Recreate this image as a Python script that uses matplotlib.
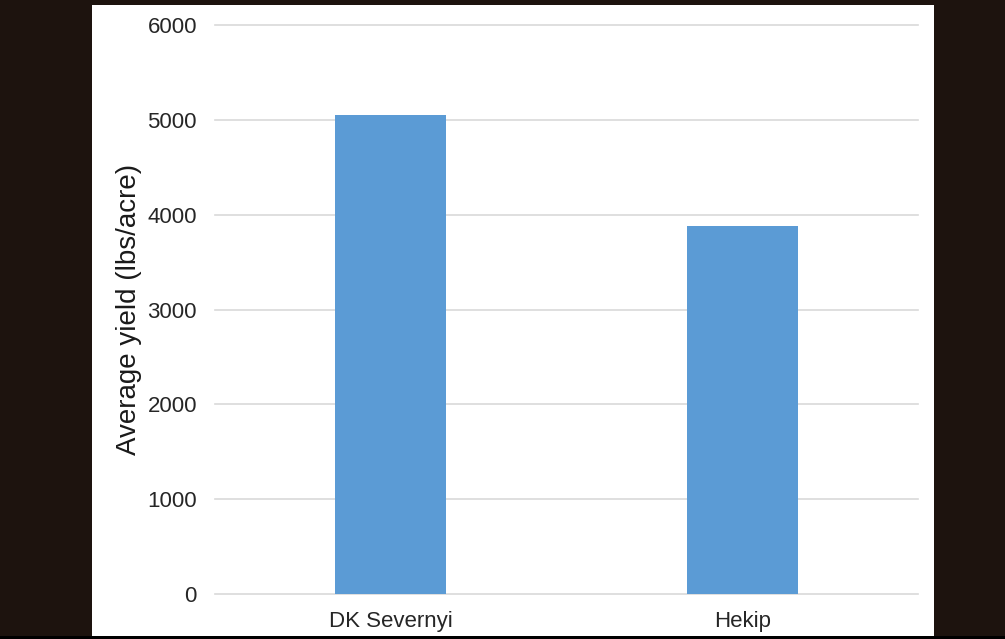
import matplotlib
matplotlib.use("Agg")
import matplotlib.pyplot as plt
from matplotlib.patches import Rectangle

categories = ["DK Severnyi", "Hekip"]
yields = [5050, 3880]
yticks = [0, 1000, 2000, 3000, 4000, 5000, 6000]

plt.rcParams['font.family'] = ['Liberation Sans', 'DejaVu Sans']

W, H = 1005, 639
fig = plt.figure(figsize=(W / 100, H / 100), dpi=100, facecolor="#1d130e")

# white slide panel
fig.patches.append(Rectangle((92 / W, 3 / H), (934 - 92) / W, (634 - 3) / H,
                             transform=fig.transFigure, facecolor="white",
                             edgecolor="none", zorder=-10))
# thin black strip at the bottom
fig.patches.append(Rectangle((0, 0), 1, 3 / H, transform=fig.transFigure,
                             facecolor="black", edgecolor="none", zorder=-10))

ax = fig.add_axes([215 / W, 45 / H, (918 - 215) / W, (594 - 25) / H])
ax.set_facecolor("none")
ax.set_zorder(5)

x = range(len(categories))
ax.bar(x, yields, width=0.316, color="#5B9BD5", zorder=3)

ax.set_xlim(-0.5, len(categories) - 0.5)
ax.set_ylim(0, 6000)
ax.set_yticks(yticks)
ax.set_yticklabels([str(v) for v in yticks])
ax.set_xticks(list(x))
ax.set_xticklabels(categories)

ax.grid(axis="y", color="#d9d9d9", linewidth=1.2, zorder=0)
ax.set_axisbelow(True)
for gl in ax.get_ygridlines():
    gl.set_clip_on(False)
for s in ax.spines.values():
    s.set_visible(False)
ax.tick_params(axis="both", length=0, labelsize=16, colors="#262626")
ax.tick_params(axis="y", pad=13)
ax.tick_params(axis="x", pad=12)

ax.set_ylabel("Average yield (lbs/acre)", fontsize=20, color="#1a1a1a", labelpad=4)

fig.savefig("out.png", dpi=100, facecolor=fig.get_facecolor())
